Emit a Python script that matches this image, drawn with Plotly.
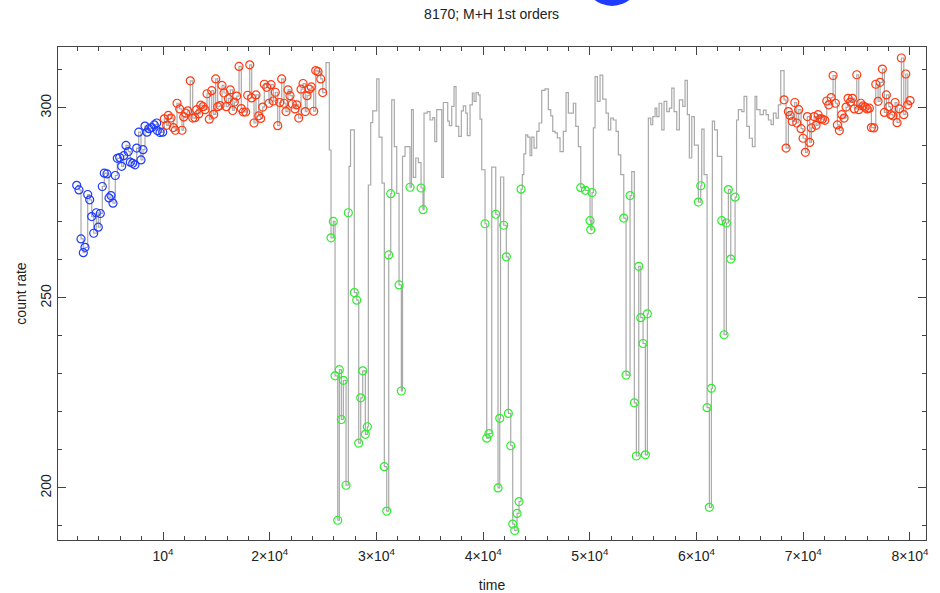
import plotly.graph_objects as go

# ---------------- data ----------------
blue_time = [1912, 2127, 2315, 2530, 2690, 2943, 3130, 3318, 3505, 3749, 3936, 4124, 4311, 4499,
             4752, 4939, 5127, 5314, 5529, 5717, 5942, 6129, 6317, 6532, 6748, 6935, 7160, 7376,
             7535, 7723, 7938, 8125, 8313, 8500, 8688, 8941, 9185, 9410, 9466, 9719, 9972]
blue_rate = [279.6, 278.4, 265.5, 261.9, 263.3, 277.2, 275.8, 271.4, 267.0, 272.4, 268.6, 272.2,
             279.3, 282.8, 282.6, 276.3, 276.9, 274.9, 282.2, 286.7, 286.9, 284.6, 287.4, 290.1,
             288.5, 285.7, 285.4, 285.0, 289.4, 293.6, 286.3, 289.0, 295.2, 293.6, 294.5, 294.8,
             295.5, 296.0, 294.0, 293.5, 293.6]

red_time = [10122, 10347, 10497, 10750, 10965, 11153, 11312, 11565, 11781, 11940, 12127, 12315,
            12558, 12783, 12999, 13158, 13346, 13533, 13749, 13936, 14124, 14339, 14564, 14752,
            14939, 15126, 15342, 15530, 15717, 15932, 16120, 16307, 16532, 16682, 16907, 17123,
            17338, 17526, 17751, 17938, 18126, 18313, 18528, 18716, 18969, 19156, 19344, 19494,
            19719, 19934, 20122, 20337, 20525, 20750, 20937, 21124, 21340, 21527, 21715, 21902,
            22118, 22371, 22530, 22718, 22933, 23121, 23336, 23496, 23711, 23899, 24124, 24311,
            24527, 24779, 24967,
            68200, 68388, 68603, 68762, 68978, 69203, 69390, 69578, 69793, 69981, 70196, 70384,
            70609, 70759, 71012, 71199, 71387, 71602, 71790, 72015, 72202, 72389, 72605, 72792,
            73008, 73195, 73383, 73608, 73823, 74011, 74198, 74414, 74601, 74789, 75014, 75201,
            75388, 75604, 75791, 75979, 76194, 76382, 76607, 76794, 77010, 77197, 77413, 77600,
            77788, 78013, 78200, 78387, 78603, 78790, 79006, 79193, 79418, 79606, 79793, 80009]
red_rate = [297.1, 295.4, 298.0, 297.3, 294.8, 294.1, 301.2, 299.7, 294.1, 297.6, 298.6, 299.2,
            307.1, 297.3, 297.4, 299.5, 298.4, 300.7, 300.3, 299.5, 303.7, 297.0, 304.5, 298.3,
            307.6, 300.3, 300.6, 305.9, 303.9, 300.3, 302.4, 304.7, 299.3, 301.5, 303.1, 310.9,
            299.8, 298.9, 298.9, 303.3, 311.3, 302.6, 296.0, 303.4, 297.9, 297.2, 300.2, 306.2,
            305.4, 301.2, 306.1, 301.8, 304.1, 295.3, 301.4, 307.6, 301.2, 299.0, 304.7, 303.2,
            301.0, 299.7, 300.8, 297.3, 304.9, 306.4, 299.0, 303.2, 304.9, 305.5, 299.1, 309.8,
            309.5, 307.6, 304.0,
            302.1, 289.4, 299.0, 298.0, 296.4, 301.4, 296.0, 299.5, 294.5, 292.0, 288.3, 297.7,
            290.9, 294.7, 297.7, 295.4, 298.2, 297.1, 297.0, 296.7, 301.8, 300.8, 302.7, 308.5,
            301.2, 295.5, 294.0, 298.2, 297.3, 300.2, 302.5, 301.5, 302.5, 299.7, 308.7, 299.5,
            301.2, 300.5, 300.2, 299.7, 299.9, 294.8, 294.7, 306.2, 301.7, 306.7, 310.2, 298.8,
            303.4, 300.3, 298.2, 297.9, 301.4, 296.1, 299.7, 313.1, 298.2, 308.9, 300.8, 301.9]

green_time = [25745, 25960, 26120, 26373, 26523, 26710, 26898, 27151, 27366, 27929, 28154, 28341,
              28529, 28716, 28960, 29147, 30740, 30965, 31153, 31340, 32118, 32333, 33149, 34180,
              34367, 40178, 40337, 40553, 41181, 41396, 41556, 41930, 42174, 42361, 42586, 42774,
              42961, 43177, 43364, 43552, 49147, 49578, 50018, 50084, 50206, 53177, 53392, 53767,
              54170, 54358, 54583, 54770, 54986, 55201, 55389, 60168, 60393, 60984, 61199, 61387,
              62361, 62577, 62792, 62980, 63205, 63608]
green_rate = [265.8, 270.1, 229.5, 191.5, 231.1, 218.0, 228.3, 200.7, 272.4, 251.4, 249.4, 211.8,
              223.7, 230.8, 214.1, 216.1, 205.6, 193.9, 261.3, 277.4, 253.4, 225.5, 279.1, 278.9,
              273.2, 269.5, 213.1, 214.3, 272.0, 200.0, 218.3, 269.1, 260.8, 219.6, 211.1, 190.5,
              188.8, 193.3, 196.4, 278.6, 279.0, 278.3, 270.3, 267.9, 277.7, 271.0, 229.7, 276.9,
              222.4, 208.4, 258.3, 244.8, 238.0, 208.7, 245.8, 275.2, 279.5, 221.1, 194.9, 226.2,
              270.3, 240.3, 269.7, 278.5, 260.2, 276.5]

# unmarked bins of the light curve (only drawn in the step line)
gray_time = [25276, 25586, 27432, 27573, 29241, 29466, 29653, 30028, 30244, 30525, 31434, 31677,
             31902, 32446, 32680, 33289, 33458, 33683, 33927, 34461, 34770, 35023, 35276, 35464,
             35651, 36120, 36270, 36682, 36832, 37057, 37272, 37460, 37713, 37957, 38144, 38369,
             38519, 38772, 38988, 39147, 39334, 39550, 39709, 39869, 40806, 41630, 43674, 43814,
             43992, 44180, 44395, 44555, 44770, 45023, 45239, 45492, 45801, 46110, 46335, 46523,
             46738, 46954, 47207, 47516, 47769, 47985, 48453, 48678, 48922, 50328, 50487, 50703,
             50956, 51209, 51518, 51734, 51958, 52202, 52455, 52671, 52896, 53927, 55482, 55707,
             55895, 56110, 56270, 56485, 56738, 56954, 57207, 57450, 57675, 57891, 58144, 58388,
             58706, 58922, 59137, 59325, 59550, 59793, 60487, 60703, 61480, 61687, 61949, 63748,
             63917, 64236, 64451, 64704, 64948, 65229, 65482, 65642, 65951, 66260, 66513, 66729,
             66982, 67197, 67450, 67666, 67891]
gray_rate = [311.9, 288.9, 284.6, 294.2, 279.7, 296.1, 299.2, 307.6, 292.3, 280.2, 302.1, 289.8,
             277.5, 287.2, 289.8, 299.5, 281.7, 286.8, 285.6, 298.6, 299.0, 296.8, 297.4, 291.1,
             299.5, 281.7, 301.4, 296.5, 295.3, 300.4, 305.6, 295.1, 292.5, 299.2, 300.5, 298.6,
             292.7, 300.8, 303.9, 301.7, 304.0, 303.4, 297.0, 283.7, 284.4, 281.8, 282.4, 287.9,
             292.9, 292.3, 287.4, 292.3, 289.4, 293.8, 296.0, 304.6, 305.0, 299.5, 297.9, 293.8,
             293.4, 292.1, 288.5, 293.8, 304.0, 298.6, 301.2, 295.1, 289.8, 294.7, 308.2, 301.7,
             308.6, 302.3, 298.6, 294.2, 297.3, 296.8, 293.8, 287.6, 282.4, 283.2, 297.3, 295.6,
             297.7, 299.9, 297.7, 301.2, 294.2, 301.7, 299.0, 299.9, 305.2, 299.0, 294.2, 302.1,
             300.4, 307.2, 298.2, 286.8, 297.7, 290.2, 294.4, 282.4, 296.5, 294.2, 287.2, 296.8,
             299.5, 299.0, 303.0, 295.1, 292.0, 289.8, 303.0, 299.5, 298.2, 299.4, 298.2, 296.8,
             295.6, 298.6, 297.3, 300.8, 309.8]

x_tickvals = [10000, 20000, 30000, 40000, 50000, 60000, 70000, 80000]
x_ticktext = ["10<sup>4</sup>", "2×10<sup>4</sup>", "3×10<sup>4</sup>", "4×10<sup>4</sup>",
              "5×10<sup>4</sup>", "6×10<sup>4</sup>", "7×10<sup>4</sup>", "8×10<sup>4</sup>"]
y_tickvals = [200, 250, 300]

# -------------- figure --------------
pairs = sorted(list(zip(blue_time, blue_rate)) + list(zip(red_time, red_rate)) +
               list(zip(green_time, green_rate)) + list(zip(gray_time, gray_rate)))
line_t = [p[0] for p in pairs]
line_r = [p[1] for p in pairs]

FONT = "Liberation Sans Narrow, Liberation Sans, Arial, sans-serif"
fig = go.Figure()
fig.add_trace(go.Scatter(x=line_t, y=line_r, mode="lines", line_shape="hv",
                         line=dict(color="#a9a9a9", width=1.2), hoverinfo="skip",
                         showlegend=False))
for t, r, c in [(blue_time, blue_rate, "#1f3cff"), (red_time, red_rate, "#ff3a12"),
                (green_time, green_rate, "#2cee2c")]:
    fig.add_trace(go.Scatter(x=t, y=r, mode="markers",
                             marker=dict(symbol="circle-open", size=8, color=c,
                                         line=dict(width=1.2, color=c)),
                             showlegend=False))

axis_common = dict(showgrid=False, zeroline=False, showline=True, linecolor="#444444",
                   linewidth=1, mirror="allticks", ticks="inside", tickcolor="#444444",
                   automargin=False,
                   tickfont=dict(family=FONT, size=14, color="#222222"))
fig.update_xaxes(range=[160, 81500], tickvals=x_tickvals, ticktext=x_ticktext, ticklen=8,
                 ticklabelstandoff=3,
                 minor=dict(dtick=2000, ticklen=4, ticks="inside", tickcolor="#444444"),
                 title=dict(text="time", font=dict(family=FONT, size=14, color="#222222"),
                            standoff=18),
                 **axis_common)
fig.update_yaxes(range=[186.3, 316], tickvals=y_tickvals, ticklen=8, tickangle=-90,
                 minor=dict(dtick=10, ticklen=4, ticks="inside", tickcolor="#444444"),
                 title=dict(text="count rate", font=dict(family=FONT, size=14, color="#222222"),
                            standoff=8),
                 **axis_common)
fig.update_layout(
    width=940, height=593, margin=dict(l=58, r=14, t=47, b=53),
    paper_bgcolor="white", plot_bgcolor="white",
    title=dict(text="8170; M+H 1st orders", x=0.523, xanchor="center", y=0.977, yanchor="middle",
               font=dict(family=FONT, size=14, color="#222222")),
    shapes=[dict(type="circle", xref="paper", yref="paper", x0=0.6060, x1=0.6705,
                 y0=1.0832, y1=1.1960, fillcolor="#1f3cff", line=dict(width=0))],
)
fig.write_html("out.html")
